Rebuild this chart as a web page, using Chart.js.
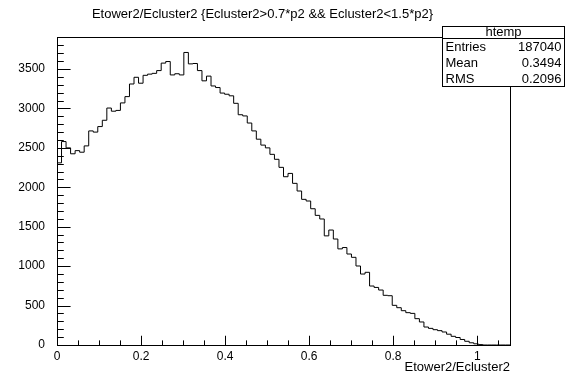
<!DOCTYPE html>
<html>
<head>
<meta charset="utf-8">
<script src="https://cdn.jsdelivr.net/npm/chart.js@4.4.1/dist/chart.umd.min.js"></script>
<style>
  html, body { margin: 0; padding: 0; background: #fff; }
  #wrap { width: 567px; height: 384px; }
</style>
</head>
<body>
<div id="wrap"><canvas id="histo"></canvas></div>
<script>
// histogram contents, 100 bins from xLow to xHigh
const binCounts = [
  2310, 2580, 2500, 2425, 2465, 2445, 2525, 2715, 2700, 2770,
  2850, 3005, 2965, 2975, 3070, 3150, 3310, 3395, 3320, 3420,
  3435, 3445, 3480, 3575, 3595, 3425, 3440, 3425, 3710, 3565,
  3570, 3480, 3350, 3410, 3285, 3265, 3195, 3180, 3160, 3065,
  2920, 2905, 2815, 2715, 2610, 2535, 2500, 2418, 2355, 2253,
  2134, 2176, 2050, 1953, 1847, 1826, 1728, 1644, 1598, 1384,
  1458, 1344, 1219, 1236, 1154, 1112, 1002, 900, 922, 748,
  730, 697, 630, 625, 503, 473, 435, 410, 401, 334,
  292, 228, 211, 194, 182, 165, 137, 110, 95, 70,
  47, 28, 15, 5, 0, 0, 0, 0, 0, 0
];
const xLow = 0;
const xHigh = 1.078;
const yHigh = 3906;
const xTickValues = [0, 0.2, 0.4, 0.6, 0.8, 1];
const yTickValues = [0, 500, 1000, 1500, 2000, 2500, 3000, 3500];
const statNames = ['Entries', 'Mean', 'RMS'];
const statValues = ['187040', '0.3494', '0.2096'];
const histName = 'htemp';
const plotTitle = 'Etower2/Ecluster2 {Ecluster2>0.7*p2 && Ecluster2<1.5*p2}';
const xTitle = 'Etower2/Ecluster2';

const binWidth = (xHigh - xLow) / binCounts.length;
const points = binCounts.map((c, i) => ({ x: xLow + i * binWidth, y: c }));
points.push({ x: xHigh, y: binCounts[binCounts.length - 1] });

const FONT = '"Liberation Sans", Arial, Helvetica, sans-serif';

// ROOT style frame: box, inner ticks, stats box, titles
const rootFrame = {
  id: 'rootFrame',
  afterDatasetsDraw(chart) {
    const ctx = chart.ctx;
    const a = chart.chartArea;
    const xs = chart.scales.x, ys = chart.scales.y;
    ctx.save();
    ctx.strokeStyle = '#000';
    ctx.lineWidth = 1;
    ctx.strokeRect(Math.round(a.left) + 0.5, Math.round(a.top) + 0.5,
      Math.round(a.right - a.left), Math.round(a.bottom - a.top));

    const xMajorLen = 0.03 * (a.bottom - a.top);
    const yMajorLen = 0.03 * (a.right - a.left);
    ctx.beginPath();
    // x ticks, minor every 0.05
    for (let k = 0; k * 0.05 <= xHigh + 1e-9; k++) {
      const px = Math.round(xs.getPixelForValue(k * 0.05)) + 0.5;
      const len = (k % 4 === 0) ? xMajorLen : xMajorLen / 2;
      ctx.moveTo(px, a.bottom);
      ctx.lineTo(px, a.bottom - len);
    }
    // y ticks, minor every 100
    for (let k = 0; k * 100 <= yHigh; k++) {
      const py = Math.round(ys.getPixelForValue(k * 100)) + 0.5;
      const len = (k % 5 === 0) ? yMajorLen : yMajorLen / 2;
      ctx.moveTo(a.left, py);
      ctx.lineTo(a.left + len, py);
    }
    ctx.stroke();

    // title
    ctx.fillStyle = '#000';
    ctx.font = '13px ' + FONT;
    ctx.textAlign = 'center';
    ctx.textBaseline = 'middle';
    ctx.fillText(plotTitle, 262.5, 14.5);

    // x axis title
    ctx.textAlign = 'right';
    ctx.fillText(xTitle, a.right, 367);

    // stats box
    const bx = 442.5, by = 26.5, bw = 122, bh = 60;
    ctx.fillStyle = '#fff';
    ctx.fillRect(bx, by, bw, bh);
    ctx.strokeRect(bx, by, bw, bh);
    ctx.beginPath();
    ctx.moveTo(bx, 38.5);
    ctx.lineTo(bx + bw, 38.5);
    ctx.stroke();
    ctx.fillStyle = '#000';
    ctx.textAlign = 'center';
    ctx.fillText(histName, bx + bw / 2, 32.5);
    statNames.forEach((n, i) => {
      const ty = 47 + i * 16;
      ctx.textAlign = 'left';
      ctx.fillText(n, bx + 3, ty);
      ctx.textAlign = 'right';
      ctx.fillText(statValues[i], bx + bw - 3, ty);
    });
    ctx.restore();
  }
};

const ctxHist = document.getElementById('histo');
const histChart = new Chart(ctxHist, {
  type: 'line',
  data: {
    datasets: [{
      label: histName,
      data: points,
      stepped: true,
      borderColor: '#000',
      borderWidth: 1,
      pointRadius: 0,
      fill: false,
      tension: 0
    }]
  },
  options: {
    responsive: true,
    maintainAspectRatio: false,
    animation: false,
    events: [],
    layout: { padding: { left: 0, top: 37, right: 57, bottom: 0 } },
    plugins: {
      legend: { display: false },
      tooltip: { enabled: false },
      title: { display: false }
    },
    scales: {
      x: {
        type: 'linear',
        min: xLow,
        max: xHigh,
        grid: { display: false },
        border: { display: false },
        afterBuildTicks: s => { s.ticks = xTickValues.map(v => ({ value: v })); },
        afterFit: s => { s.height = 39; },
        ticks: {
          color: '#000',
          padding: -4,
          maxRotation: 0,
          autoSkip: false,
          font: { family: FONT, size: 12 },
          callback: v => String(v)
        }
      },
      y: {
        type: 'linear',
        min: 0,
        max: yHigh,
        grid: { display: false },
        border: { display: false },
        afterBuildTicks: s => { s.ticks = yTickValues.map(v => ({ value: v })); },
        afterFit: s => { s.width = 57; },
        ticks: {
          color: '#000',
          padding: 4,
          autoSkip: false,
          font: { family: FONT, size: 12 },
          callback: v => String(v)
        }
      }
    }
  },
  plugins: [rootFrame]
});
</script>
</body>
</html>
